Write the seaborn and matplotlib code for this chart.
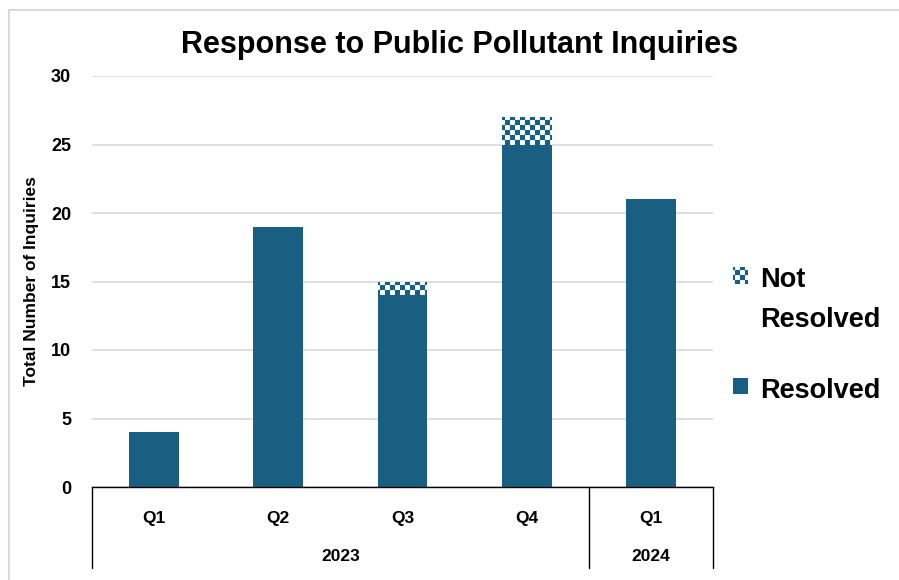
import numpy as np
import pandas as pd
import matplotlib
matplotlib.use("Agg")
import matplotlib.pyplot as plt
import matplotlib.hatch as mhatch
import matplotlib.transforms as mtransforms
from matplotlib.patches import Rectangle
from matplotlib.path import Path
import seaborn as sns

# ---------------- data ----------------
quarters = ["Q1", "Q2", "Q3", "Q4", "Q1"]
years = ["2023", "2023", "2023", "2023", "2024"]
resolved = [4, 19, 14, 25, 21]
not_resolved = [0, 0, 1, 2, 0]
y_ticks = [0, 5, 10, 15, 20, 25, 30]
title = "Response to Public Pollutant Inquiries"
y_label = "Total Number of Inquiries"
label_resolved = "Resolved"
label_not_resolved = "Not\nResolved"

BLUE = "#185F82"


# ---------------- checkerboard hatch ----------------
class CheckerHatch(mhatch.HatchPatternBase):
    def __init__(self, hatch, density):
        self.n = 20 if "O" in hatch else 0
        self.num_vertices = (self.n * self.n // 2) * 5

    def set_vertices_and_codes(self, vertices, codes):
        n = self.n
        s = 1.0 / n
        k = 0
        for i in range(n):
            for j in range(n):
                if (i + j) % 2 == 0:
                    x0, y0 = i * s, j * s
                    vertices[k:k + 5] = [(x0, y0), (x0 + s, y0), (x0 + s, y0 + s),
                                         (x0, y0 + s), (x0, y0)]
                    codes[k:k + 5] = [Path.MOVETO, Path.LINETO, Path.LINETO,
                                      Path.LINETO, Path.CLOSEPOLY]
                    k += 5


mhatch._hatch_types[:] = [t for t in mhatch._hatch_types
                          if t is not mhatch.LargeCircles] + [CheckerHatch]

# ---------------- style ----------------
sns.set_theme(style="white")
plt.rcParams["font.family"] = ["Liberation Sans", "DejaVu Sans"]
plt.rcParams["hatch.linewidth"] = 0.1
for key in ["text.color", "axes.labelcolor", "xtick.color", "ytick.color"]:
    plt.rcParams[key] = "black"

df = pd.DataFrame({
    "period": [f"{y} {q}" for y, q in zip(years, quarters)],
    "resolved": resolved,
    "not_resolved": not_resolved,
})
df["total"] = df["resolved"] + df["not_resolved"]

fig = plt.figure(figsize=(8.99, 5.8), dpi=100)
ax = fig.add_axes([92 / 899, 93 / 580, 621 / 899, 411 / 580])

sns.barplot(data=df, x="period", y="total", color="white", edgecolor=BLUE,
            hatch="O", linewidth=0, width=0.4, saturation=1, errorbar=None,
            label=label_not_resolved, ax=ax)
sns.barplot(data=df, x="period", y="resolved", color=BLUE, linewidth=0,
            width=0.4, saturation=1, errorbar=None, label=label_resolved, ax=ax)

ax.set_xlim(-0.5, len(quarters) - 0.5)
ax.set_ylim(y_ticks[0], y_ticks[-1])
ax.set_yticks(y_ticks)
ax.set_yticklabels([str(t) for t in y_ticks], fontsize=13, fontweight="bold")
ax.set_xticks(range(len(quarters)))
ax.set_xticklabels(quarters, fontsize=12.5, fontweight="bold")
ax.tick_params(axis="both", length=0)
ax.tick_params(axis="y", pad=15)
ax.tick_params(axis="x", pad=17)
ax.set_xlabel("")
ax.set_ylabel(y_label, fontsize=12.5, fontweight="bold")
ax.yaxis.set_label_coords(-0.085, 0.5)

ax.yaxis.grid(True, color="#D9D9D9", linewidth=1.2)
ax.set_axisbelow(True)
for side in ["left", "top", "right"]:
    ax.spines[side].set_visible(False)
ax.spines["bottom"].set_color("black")
ax.spines["bottom"].set_linewidth(1.0)

# multi-level category axis
trans = mtransforms.blended_transform_factory(ax.transData, ax.transAxes)
line_bottom = -0.197
bounds = [-0.5]
uniq = []
for i, y in enumerate(years):
    if i == len(years) - 1 or years[i + 1] != y:
        bounds.append(i + 0.5)
for i, y in enumerate(years):
    if y not in uniq:
        uniq.append(y)
for y in uniq:
    idx = [i for i, yy in enumerate(years) if yy == y]
    ax.text(np.mean(idx), -0.168, y, transform=trans, ha="center", va="center",
            fontsize=12.5, fontweight="bold")
for b in bounds:
    ax.plot([b, b], [0, line_bottom], transform=trans, color="black",
            linewidth=1.0, clip_on=False)

# legend
handles, labels = ax.get_legend_handles_labels()
if ax.get_legend() is not None:
    ax.get_legend().remove()
leg = fig.legend(handles, labels, loc="upper left",
                 bbox_to_anchor=(709 / 899, 1 - 243 / 580), frameon=False,
                 prop={"size": 19.5, "weight": "bold"}, handlelength=0.55,
                 handleheight=0.55, handletextpad=0.42, labelspacing=1.65)
for t in leg.get_texts():
    t.set_linespacing(1.68)
try:
    for col in leg._legend_handle_box.get_children():
        for item in col.get_children():
            item.align = "top"
except Exception:
    pass

fig.suptitle(title, x=460 / 899, y=1 - 45 / 580, va="center",
             fontsize=22, fontweight="bold")

fig.add_artist(Rectangle((9 / 899, -0.05), 1.2, 1 - 10 / 580 + 0.05,
                         transform=fig.transFigure, fill=False,
                         edgecolor="#D9D9D9", linewidth=1.5))

fig.savefig("out.png", dpi=100)
